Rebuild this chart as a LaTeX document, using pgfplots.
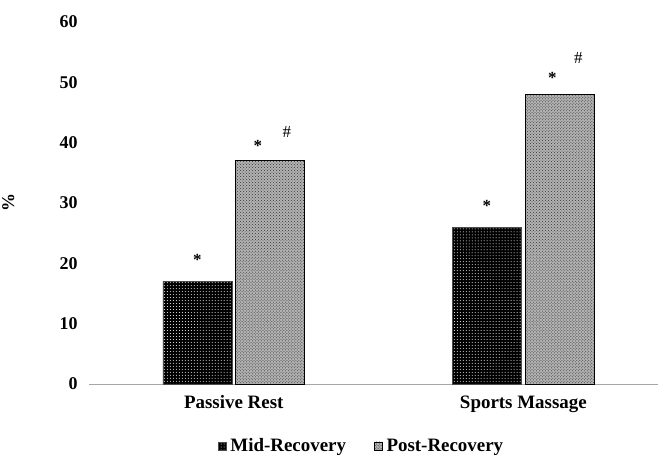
\documentclass[border=0pt]{standalone}
\usepackage{pgfplots}
\pgfplotsset{compat=1.18}
\usepackage{fontspec}
\setmainfont{Liberation Serif}
\usetikzlibrary{patterns}
\begin{document}
\begin{tikzpicture}
\useasboundingbox (-89bp,-72bp) rectangle (570bp,384bp);
\begin{axis}[
  at={(0,0)}, anchor=south west,
  scale only axis, width=569bp, height=362bp,
  xmin=-0.5, xmax=1.465, ymin=0, ymax=60,
  xtick={0,1}, xticklabels={Passive Rest, Sports Massage},
  ytick={0,10,20,30,40,50,60},
  axis x line=bottom, axis y line=left,
  x axis line style={-, draw=gray!70, line width=0.8pt},
  y axis line style={draw=none},
  major tick length=0pt,
  yticklabel style={font=\fontsize{18}{21}\selectfont\bfseries, xshift=-8bp},
  xticklabel style={font=\fontsize{19}{22}\selectfont\bfseries, yshift=-8bp},
  /pgf/number format/assume math mode=true,
  ylabel={\%}, ylabel style={font=\fontsize{18}{21}\selectfont\bfseries, at={(axis description cs:-0.125,0.5)}, rotate=0},
  legend style={draw=none, at={(axis description cs:0.479,-0.171)}, anchor=center, legend columns=2, font=\fontsize{19}{22}\selectfont\bfseries, /tikz/every odd column/.append style={column sep=2bp}, /tikz/every even column/.append style={column sep=26bp}, inner xsep=0pt},
  legend image code/.code={\draw[#1, line width=0.5pt] (0bp,-4bp) rectangle (8bp,4bp);},
  clip=false,
]
\addplot[ybar, bar width=0.238, bar shift=-0.126, draw=gray!60!black, fill=black, postaction={pattern=dots, pattern color=white}] coordinates {(0,17) (1,26)};
\addlegendentry{Mid-Recovery}
\addplot[ybar, bar width=0.238, bar shift=0.126, draw=black, line width=0.8pt, fill=gray!60, postaction={pattern=crosshatch dots, pattern color=black!80}] coordinates {(0,37) (1,48)};
\addlegendentry{Post-Recovery}
\node[font=\fontsize{17}{20}\selectfont\bfseries] at (axis cs:-0.126,20.5) {*};
\node[font=\fontsize{17}{20}\selectfont\bfseries] at (axis cs:0.083,39.5) {*};
\node[font=\fontsize{17}{20}\selectfont] at (axis cs:0.183,41.8) {\#};
\node[font=\fontsize{17}{20}\selectfont\bfseries] at (axis cs:0.874,29.5) {*};
\node[font=\fontsize{17}{20}\selectfont\bfseries] at (axis cs:1.1,50.8) {*};
\node[font=\fontsize{17}{20}\selectfont] at (axis cs:1.19,54.0) {\#};
\end{axis}
\end{tikzpicture}
\end{document}
